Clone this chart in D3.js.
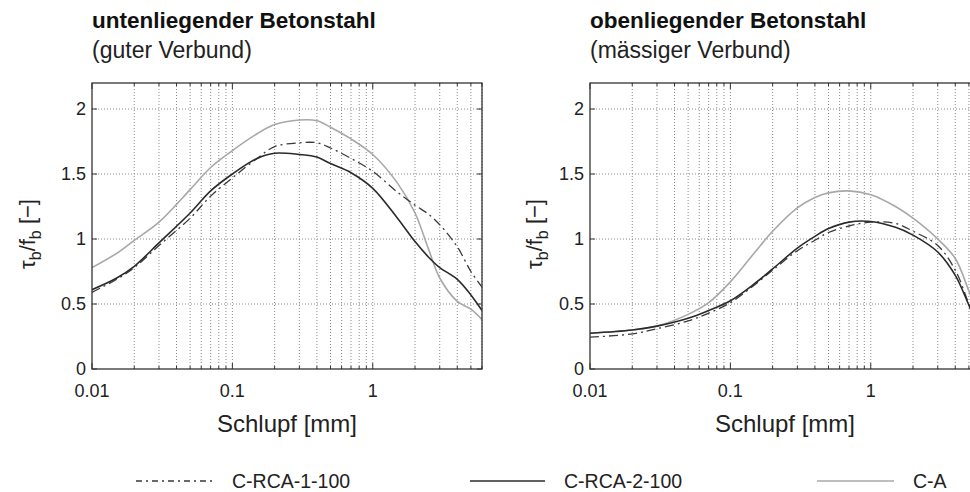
<!DOCTYPE html>
<html>
<head>
<meta charset="utf-8">
<script src="https://cdn.jsdelivr.net/npm/d3@7"></script>
<style>
    body { margin: 0; background: #fff; }
    svg { font-family: Arial, "Liberation Sans", sans-serif; }
    .grid line { stroke: #8a8a8a; stroke-width: 1; stroke-dasharray: 1,2; }
    .frame { fill: none; stroke: #333; stroke-width: 1.3; }
    .tick-mark { stroke: #333; stroke-width: 1; }
    .ticklabel { font-size: 18px; fill: #222; }
    .curve { fill: none; }
</style>
</head>
<body>
<script>

    var slipLeft = [0.01, 0.015, 0.02, 0.03, 0.05, 0.07, 0.1, 0.15, 0.2, 0.3, 0.4, 0.5, 0.7, 1, 1.5, 2, 2.5, 3, 4, 5, 6];
    var slipRight = [0.01, 0.02, 0.03, 0.05, 0.07, 0.1, 0.15, 0.2, 0.3, 0.4, 0.5, 0.7, 1, 1.5, 2, 3, 4, 5, 6];

    // left: untenliegender Betonstahl
    var rca1Left = [0.59, 0.69, 0.78, 0.95, 1.16, 1.33, 1.47, 1.62, 1.71, 1.74, 1.74, 1.70, 1.62, 1.52, 1.36, 1.26, 1.19, 1.11, 0.94, 0.75, 0.63];
    var rca2Left = [0.61, 0.70, 0.79, 0.97, 1.20, 1.37, 1.50, 1.62, 1.66, 1.65, 1.63, 1.58, 1.51, 1.39, 1.16, 0.98, 0.86, 0.78, 0.69, 0.57, 0.45];
    var caLeft   = [0.78, 0.89, 0.99, 1.13, 1.38, 1.55, 1.68, 1.81, 1.88, 1.915, 1.91, 1.86, 1.77, 1.65, 1.43, 1.20, 0.92, 0.70, 0.52, 0.46, 0.38];

    // right: obenliegender Betonstahl
    var rca1Right = [0.245, 0.27, 0.31, 0.37, 0.43, 0.51, 0.65, 0.76, 0.91, 0.99, 1.05, 1.10, 1.13, 1.12, 1.06, 0.95, 0.76, 0.50, 0.28];
    var rca2Right = [0.275, 0.30, 0.33, 0.39, 0.45, 0.525, 0.66, 0.77, 0.93, 1.02, 1.08, 1.13, 1.135, 1.09, 1.03, 0.90, 0.72, 0.49, 0.28];
    var caRight   = [0.275, 0.30, 0.33, 0.42, 0.51, 0.67, 0.90, 1.06, 1.24, 1.32, 1.355, 1.37, 1.34, 1.25, 1.16, 1.00, 0.85, 0.60, 0.38];

    var yTicks = [0, 0.5, 1, 1.5, 2];
    var xLabels = [0.01, 0.1, 1];
    var seriesNames = ["C-RCA-1-100", "C-RCA-2-100", "C-A"];

    var styles = {
        "C-RCA-1-100": { stroke: "#3a3a3a", width: 1.3, dash: "9,4,2,4", legendDash: "6,4,2,4" },
        "C-RCA-2-100": { stroke: "#2b2b2b", width: 1.6, dash: null, legendDash: null },
        "C-A":         { stroke: "#a8a8a8", width: 1.6, dash: null, legendDash: null }
    };

    var width = 970, height = 492;

    var svg = d3.select("body").append("svg")
        .attr("width", width)
        .attr("height", height);

    var panels = [
        { left: 92, title: "untenliegender Betonstahl", sub: "(guter Verbund)", labelX: 35,
          x: slipLeft, series: [rca1Left, rca2Left, caLeft] },
        { left: 590, title: "obenliegender Betonstahl", sub: "(mässiger Verbund)", labelX: 542,
          x: slipRight, series: [rca1Right, rca2Right, caRight] }
    ];

    var plotW = 390, plotTop = 83, plotBottom = 369;

    function minorTicks() {
        var t = [];
        [0.01, 0.1, 1].forEach(function (d) {
            for (var k = 1; k <= 9; k++) {
                var v = d * k;
                if (v <= 6.0001) t.push(+v.toPrecision(3));
            }
        });
        return t;
    }

    panels.forEach(function (p) {
        var x = d3.scaleLog().domain([0.01, 6]).range([p.left, p.left + plotW]);
        var y = d3.scaleLinear().domain([0, 2.2]).range([plotBottom, plotTop]);
        var g = svg.append("g");

        // titles
        g.append("text").attr("x", p.left).attr("y", 28)
            .style("font-size", "22.5px").style("font-weight", "bold").attr("fill", "#111")
            .text(p.title);
        g.append("text").attr("x", p.left).attr("y", 58)
            .style("font-size", "23px").attr("fill", "#222")
            .text(p.sub);

        // grid
        var grid = g.append("g").attr("class", "grid");
        minorTicks().filter(function (v) { return v > 0.01; }).forEach(function (v) {
            grid.append("line").attr("x1", x(v)).attr("x2", x(v)).attr("y1", plotTop).attr("y2", plotBottom);
        });
        yTicks.filter(function (v) { return v > 0; }).forEach(function (v) {
            grid.append("line").attr("x1", p.left).attr("x2", p.left + plotW).attr("y1", y(v)).attr("y2", y(v));
        });

        // inward tick marks
        minorTicks().forEach(function (v) {
            var len = xLabels.indexOf(v) >= 0 ? 6 : 3;
            g.append("line").attr("class", "tick-mark").attr("x1", x(v)).attr("x2", x(v))
                .attr("y1", plotBottom).attr("y2", plotBottom - len);
            g.append("line").attr("class", "tick-mark").attr("x1", x(v)).attr("x2", x(v))
                .attr("y1", plotTop).attr("y2", plotTop + len);
        });
        yTicks.forEach(function (v) {
            g.append("line").attr("class", "tick-mark").attr("x1", p.left).attr("x2", p.left + 5)
                .attr("y1", y(v)).attr("y2", y(v));
            g.append("line").attr("class", "tick-mark").attr("x1", p.left + plotW).attr("x2", p.left + plotW - 5)
                .attr("y1", y(v)).attr("y2", y(v));
        });

        // curves
        var clipId = "clip" + p.left;
        svg.append("clipPath").attr("id", clipId).append("rect")
            .attr("x", p.left).attr("y", plotTop).attr("width", plotW).attr("height", plotBottom - plotTop);

        var line = d3.line()
            .x(function (d) { return x(d[0]); })
            .y(function (d) { return y(d[1]); })
            .curve(d3.curveCatmullRom.alpha(0.5));

        [2, 0, 1].forEach(function (i) {
            var st = styles[seriesNames[i]];
            var pts = p.x.map(function (v, j) { return [v, p.series[i][j]]; });
            g.append("path").attr("class", "curve")
                .attr("clip-path", "url(#" + clipId + ")")
                .attr("d", line(pts))
                .attr("stroke", st.stroke)
                .attr("stroke-width", st.width)
                .attr("stroke-dasharray", st.dash);
        });

        // frame
        g.append("rect").attr("class", "frame")
            .attr("x", p.left).attr("y", plotTop).attr("width", plotW).attr("height", plotBottom - plotTop);

        // tick labels
        yTicks.forEach(function (v) {
            g.append("text").attr("class", "ticklabel")
                .attr("x", p.left - 6).attr("y", y(v) + 6)
                .attr("text-anchor", "end")
                .text(v);
        });
        xLabels.forEach(function (v) {
            g.append("text").attr("class", "ticklabel")
                .attr("x", x(v)).attr("y", plotBottom + 28)
                .attr("text-anchor", "middle")
                .text(v);
        });

        // axis titles
        g.append("text")
            .attr("x", p.left + plotW / 2).attr("y", 432)
            .attr("text-anchor", "middle")
            .style("font-size", "24px").attr("fill", "#222")
            .text("Schlupf [mm]");

        var yl = g.append("text")
            .attr("transform", "translate(" + p.labelX + ",234) rotate(-90)")
            .attr("text-anchor", "middle")
            .style("font-size", "22px").attr("fill", "#222");
        yl.append("tspan").text("τ");
        yl.append("tspan").attr("dy", 6).style("font-size", "16px").text("b");
        yl.append("tspan").attr("dy", -6).text("/f");
        yl.append("tspan").attr("dy", 6).style("font-size", "16px").text("b");
        yl.append("tspan").attr("dy", -6).text(" [−]");
    });

    // legend
    var legendItems = [
        { name: "C-RCA-1-100", x1: 136, x2: 213, tx: 232 },
        { name: "C-RCA-2-100", x1: 470, x2: 545, tx: 564 },
        { name: "C-A", x1: 817, x2: 894, tx: 913 }
    ];
    var leg = svg.append("g");
    legendItems.forEach(function (d) {
        var st = styles[d.name];
        leg.append("line")
            .attr("x1", d.x1).attr("x2", d.x2).attr("y1", 481).attr("y2", 481)
            .attr("stroke", st.stroke).attr("stroke-width", st.width)
            .attr("stroke-dasharray", st.legendDash);
        leg.append("text").attr("x", d.tx).attr("y", 488)
            .style("font-size", "19.5px").attr("fill", "#222")
            .text(d.name);
    });

</script>
</body>
</html>
